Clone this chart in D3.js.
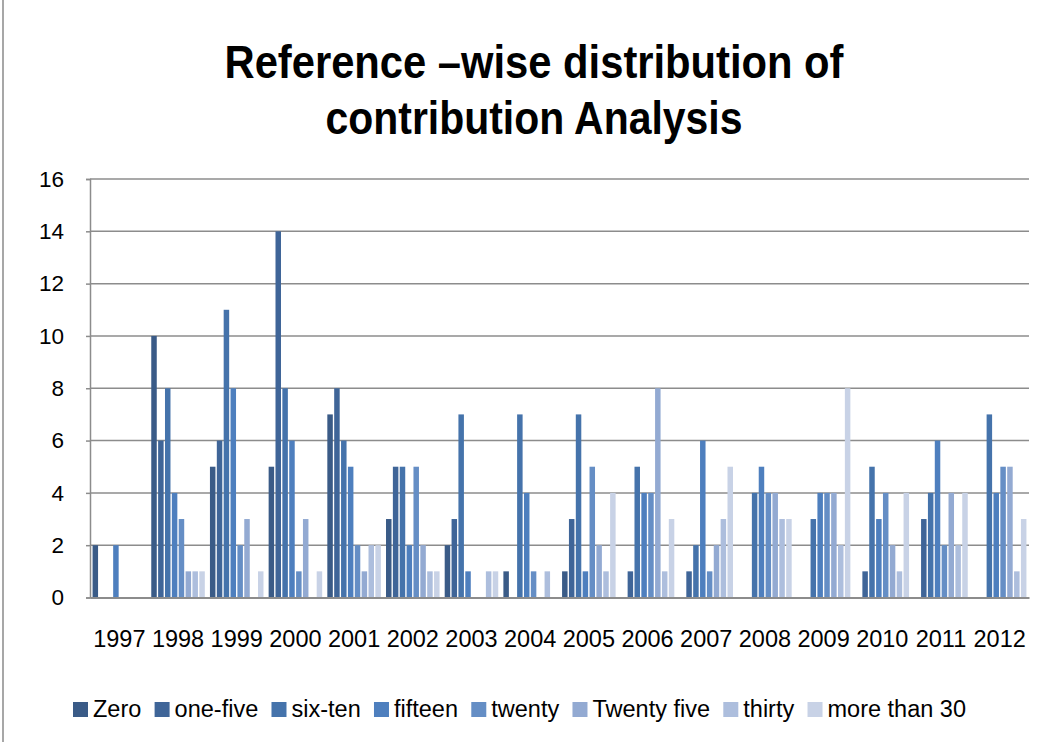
<!DOCTYPE html>
<html>
<head>
<meta charset="utf-8">
<script src="https://cdn.jsdelivr.net/npm/d3@7"></script>
<style>
  html, body { margin: 0; padding: 0; background: #fff; }
  svg { display: block; }
  text { font-family: "Liberation Sans", Arial, sans-serif; fill: #000; }
</style>
</head>
<body>
<svg id="chart" width="1050" height="742"></svg>
<script>
const years = ["1997","1998","1999","2000","2001","2002","2003","2004","2005","2006","2007","2008","2009","2010","2011","2012"];
const seriesNames = ["Zero","one-five","six-ten","fifteen","twenty","Twenty five","thirty","more than 30"];
const zero        = [2,10,5,5,7,3,2,1,1,0,0,0,0,0,0,0];
const oneFive     = [0,6,6,14,8,5,3,0,3,1,1,0,0,1,3,0];
const sixTen      = [0,8,11,8,6,5,7,7,7,5,2,4,3,5,4,7];
const fifteen     = [2,4,8,6,5,2,1,4,1,4,6,5,4,3,6,4];
const twenty      = [0,3,2,1,2,5,0,1,5,4,1,4,4,4,2,5];
const twentyFive  = [0,1,3,3,1,2,0,0,2,8,2,4,4,2,4,5];
const thirty      = [0,1,0,0,2,1,1,1,1,1,3,3,2,1,2,1];
const moreThan30  = [0,1,1,1,2,1,1,0,4,3,5,3,8,4,4,3];
const yTicks = [0,2,4,6,8,10,12,14,16];
const titleLines = ["Reference \u2013wise distribution of", "contribution Analysis"];

const seriesValues = [zero, oneFive, sixTen, fifteen, twenty, twentyFive, thirty, moreThan30];
const colors = ["#3a5b87","#3f6598","#4573ab","#4e7fbe","#658ec5","#93aad2","#adbedd","#c8d2e6"];

(function(){
const svg = d3.select("#chart");

// outer chart border (left edge visible)
svg.append("line").attr("x1",3).attr("x2",3).attr("y1",0).attr("y2",742)
  .attr("stroke","#8a8a8a").attr("stroke-width",1.5);

// title
const titleWidths = [619, 417];
const titleBase = [78, 134];
titleLines.forEach((t,i) => {
  svg.append("text")
    .attr("x", 534).attr("y", titleBase[i])
    .attr("text-anchor","middle")
    .attr("font-size", 46).attr("font-weight","bold")
    .attr("textLength", titleWidths[i]).attr("lengthAdjust","spacingAndGlyphs")
    .text(t);
});

const mLeft = 90, mRight = 1029, mTop = 179, mBottom = 597.5;
const y = d3.scaleLinear().domain([0,16]).range([mBottom, mTop]);
const x0 = d3.scaleBand().domain(years).range([mLeft, mRight]).paddingInner(0).paddingOuter(0);
const x1 = d3.scaleBand().domain(seriesNames).range([0, x0.bandwidth()]).paddingInner(0.2).paddingOuter(0.375);

// gridlines
svg.append("g").selectAll("line").data(yTicks.filter(d => d > 0)).join("line")
  .attr("x1", mLeft).attr("x2", mRight)
  .attr("y1", d => y(d)).attr("y2", d => y(d))
  .attr("stroke","#8c8c8c").attr("stroke-width",1.5);

// y axis
const yAxis = svg.append("g").attr("transform", `translate(${mLeft},0)`)
  .call(d3.axisLeft(y).tickValues(yTicks).tickSize(4).tickPadding(22).tickFormat(d3.format("d")));
yAxis.select(".domain").attr("stroke","#8c8c8c").attr("stroke-width",1.5);
yAxis.selectAll(".tick line").attr("stroke","#8c8c8c").attr("stroke-width",1.5);
yAxis.selectAll(".tick text").attr("font-size",22.5).attr("font-family","Liberation Sans, Arial, sans-serif").attr("fill","#000");

// bars
const groups = svg.append("g").selectAll("g").data(years).join("g")
  .attr("transform", d => `translate(${x0(d)},0)`);
groups.selectAll("rect")
  .data((yr, yi) => seriesNames.map((s, si) => ({s, si, v: seriesValues[si][yi]})))
  .join("rect")
  .attr("x", d => x1(d.s))
  .attr("width", x1.bandwidth())
  .attr("y", d => y(d.v))
  .attr("height", d => y(0) - y(d.v))
  .attr("fill", d => colors[d.si]);

// x axis
const xAxis = svg.append("g").attr("transform", `translate(0,${mBottom})`)
  .call(d3.axisBottom(x0).tickSize(0).tickPadding(33));
xAxis.select(".domain").attr("stroke","#8c8c8c").attr("stroke-width",2);
xAxis.selectAll(".tick text").attr("font-size",23.5).attr("font-family","Liberation Sans, Arial, sans-serif").attr("fill","#000");

// legend
const legend = svg.append("g");
const items = legend.selectAll("g").data(seriesNames).join("g");
items.append("rect").attr("x",0).attr("y",702).attr("width",15).attr("height",15)
  .attr("fill", (d,i) => colors[i]);
items.append("text").attr("x",20).attr("y",717).attr("font-size",23.5).text(d => d);
const widths = [];
items.each(function(){ widths.push(20 + d3.select(this).select("text").node().getComputedTextLength()); });
const span = 893;
const gap = (span - d3.sum(widths)) / (widths.length - 1);
const startX = 73;
let cx = startX;
const offsets = widths.map(w => { const o = cx; cx += w + gap; return o; });
items.attr("transform", (d,i) => `translate(${offsets[i]},0)`);
})();
</script>
</body>
</html>
